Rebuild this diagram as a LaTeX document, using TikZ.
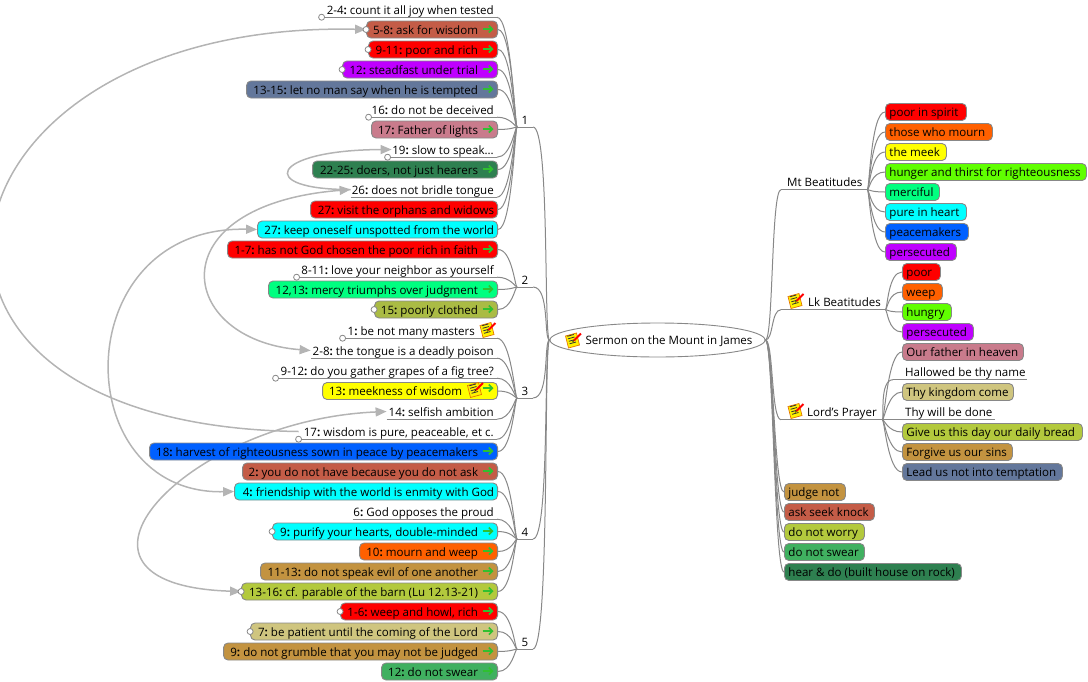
\documentclass[tikz,border=0pt]{standalone}
\usepackage{fontspec}
\setmainfont{Open Sans}
\usetikzlibrary{arrows.meta,calc,shapes.geometric}
\pgfdeclarelayer{bg}
\pgfsetlayers{bg,main}
\definecolor{cRed}{HTML}{FF0000}
\definecolor{cOrange}{HTML}{FF6000}
\definecolor{cYellow}{HTML}{FFFF00}
\definecolor{cLime}{HTML}{60FF00}
\definecolor{cSpring}{HTML}{00FF80}
\definecolor{cCyan}{HTML}{00FFFF}
\definecolor{cBlue}{HTML}{0060FF}
\definecolor{cPurple}{HTML}{BF00FF}
\definecolor{cRose}{HTML}{C97B8C}
\definecolor{cKhaki}{HTML}{CFC57F}
\definecolor{cOlive}{HTML}{B3C93D}
\definecolor{cPoor}{HTML}{AABB44}
\definecolor{cBrown}{HTML}{C39340}
\definecolor{cSlate}{HTML}{63779B}
\definecolor{cTerra}{HTML}{C45C47}
\definecolor{cDeep}{HTML}{2E8050}
\definecolor{cMid}{HTML}{40B060}
\definecolor{cLink}{HTML}{888888}
\definecolor{cArc}{HTML}{B4B4B4}
\definecolor{cGo}{HTML}{30C030}
\newcommand{\st}{\rule[-3pt]{0pt}{15pt}}
\tikzset{
 x=1pt,y=-1pt,
 every node/.style={font=\fontsize{11.55}{13}\selectfont,text=black},
 pill/.style={draw=cLink,line width=.9pt,rounded corners=4.5pt,minimum height=17pt,inner ysep=0pt,inner xsep=0pt},
 bare/.style={inner ysep=0pt,inner xsep=0pt,minimum height=15pt},
 rule/.style={draw=cLink,line width=1pt},
 conn/.style={draw=cLink,line width=1pt,out=0,in=180,out distance=14pt,in distance=2pt},
 connr/.style={draw=cLink,line width=1pt,out=0,in=180,out distance=2pt,in distance=14pt},
 trunk/.style={draw=cLink,line width=1pt,out=0,in=180,out distance=17pt,in distance=6pt},
 trunkr/.style={draw=cLink,line width=1pt,out=0,in=180,out distance=8pt,in distance=10pt},
 arc/.style={draw=cArc,line width=1.5pt,-{Triangle[length=11pt,width=9pt,fill=cArc]}},
 arcb/.style={draw=cArc,line width=1.5pt,{Triangle[length=11pt,width=9pt,fill=cArc]}-{Triangle[length=11pt,width=9pt,fill=cArc]}},
 fold/.style={circle,draw=cLink,fill=white,line width=.8pt,minimum size=6pt,inner sep=0pt},
 go/.style={draw=cGo,line width=1.6pt,-{Straight Barb[length=3.5pt,width=7pt]}},
}
\newcommand{\LB}[6]{%
 \pgfmathsetlengthmacro\boxw{498-#2}%
 \node[pill,fill=#4,minimum width=\boxw,anchor=east] (#1) at (498,#3)
   {\makebox[\dimexpr\boxw-#6pt\relax][r]{\st#5}\hspace*{0pt}};}
\newcommand{\LA}[5]{\LB{#1}{#2}{#3}{#4}{#5\hspace{19pt}}{1}%
 \draw[go] (482.5,#3-.5) -- (493.5,#3-.5);}
\newcommand{\LN}[5]{\LB{#1}{#2}{#3}{#4}{#5\hspace{3pt}}{1}}
\newcommand{\FB}[1]{\node[fold] (#1f) at (#1.west) {};}
\newcommand{\LP}[4]{%
 \pgfmathsetlengthmacro\boxw{497-#2}%
 \node[bare,minimum width=\boxw,anchor=east] (#1) at (497,#3)
   {\makebox[\boxw][r]{\st#4\hspace{3pt}}};
 \draw[rule] (#1.south west) -- (#1.south east);}
\newcommand{\FP}[1]{\node[fold] (#1f) at (#1.south west) {};}
\newcommand{\RB}[6]{%
 \pgfmathsetlengthmacro\boxw{#3-#2}%
 \node[pill,fill=#5,minimum width=\boxw,anchor=west] (#1) at (#2,#4)
   {\makebox[\boxw][l]{\st\hspace{4pt}#6}};}
\newcommand{\RP}[5]{%
 \pgfmathsetlengthmacro\boxw{#3-#2}%
 \node[bare,minimum width=\boxw,anchor=west] (#1) at (#2,#4)
   {\makebox[\boxw][l]{\st\hspace{4pt}#5}};
 \draw[rule] (#1.south west) -- (#1.south east);}
\newcommand{\noteicon}[2]{%
 \begin{scope}[shift={(#1,#2)}]
  \draw[draw=orange!90!black,fill=yellow,line width=.7pt] (-7.5,-4.5) -- (3.5,-7.5) -- (6.5,4.5) -- (-4.5,7.5) -- cycle;
  \foreach \i in {-4,-1.5,1,3.5}
    \draw[black!80,line width=.8pt] (-4.5+.3*\i,\i-.2) -- (2+.3*\i,\i-2);
  \draw[red,line width=2pt] (1,0) -- (8,-7);
  \draw[black,line width=.5pt] (-.5,1.5) -- (1,0);
 \end{scope}}
\newcommand{\hd}[1]{#1\textbf{:}\hspace{-1pt}}
\begin{document}
\begin{tikzpicture}
\useasboundingbox (0,0) rectangle (1088,681);
\node[ellipse,draw=cLink,line width=.9pt,fill=white,minimum width=215pt,minimum height=34pt,inner sep=0pt] (root) at (657.5,340) {};
\node[inner sep=0pt] (roottext) at (669,340) {\st Sermon on the Mount in James};
\noteicon{573}{340.5}
\foreach \nm/\yy/\lbl in {a/127/1,b/287/2,c/398/3,d/539/4,e/649/5}{
 \coordinate (hub\nm) at (517,\yy);
 \coordinate (hub\nm r) at (533,\yy);
 \node[inner sep=0pt] (lab\nm) at (525,\yy-7) {\st\lbl};
 \draw[rule] (hub\nm) -- (hub\nm r);
 \draw[trunk] (hub\nm r) to (root.west);
}
\LP{aa}{322}{9.5}{\hd{2-4} count it all joy when tested}\FP{aa}
\LA{ab}{367}{29.5}{cTerra}{\hd{5-8} ask for wisdom}\FB{ab}
\LA{ac}{369}{49.5}{cRed}{\hd{9-11} poor and rich}\FB{ac}
\LA{ad}{343}{69.5}{cPurple}{\hd{12} steadfast under trial}\FB{ad}
\LA{ae}{247}{89.5}{cSlate}{\hd{13-15} let no man say when he is tempted}
\LP{af}{369}{109.5}{\hd{16} do not be deceived}\FP{af}
\LA{ag}{372}{129.5}{cRose}{\hd{17} Father of lights}
\LP{ah}{388}{149.5}{\hd{19} slow to speak...}\FP{ah}
\LA{ai}{313}{169.5}{cDeep}{\hd{22-25} doers, not just hearers}
\LP{aj}{351}{189.5}{\hd{26} does not bridle tongue}
\LN{ak}{311}{209.5}{cRed}{\hd{27} visit the orphans and widows}
\LN{al}{258}{229.5}{cCyan}{\hd{27} keep oneself unspotted from the world}
\LA{ba}{228}{249.5}{cRed}{\hd{1-7} has not God chosen the poor rich in faith}
\LP{bb}{297}{269.5}{\hd{8-11} love your neighbor as yourself}\FP{bb}
\LA{bc}{269}{289.5}{cSpring}{\hd{12,13} mercy triumphs over judgment}
\LA{bd}{375}{309.5}{cPoor}{\hd{15} poorly clothed}\FB{bd}
\LP{ca}{343}{330.5}{\hd{1} be not many masters\hspace{19pt}}\FP{ca}
\noteicon{487.5}{330}
\LP{cb}{311}{350.5}{\hd{2-8} the tongue is a deadly poison}
\LP{cc}{276}{370.5}{\hd{9-12} do you gather grapes of a fig tree?}\FP{cc}
\LB{cd}{323}{391}{cYellow}{\hd{13} meekness of wisdom\hspace{35pt}}{1}
\draw[go] (482.5,388) -- (493.5,388);
\noteicon{475}{390}
\LP{ce}{387}{411.5}{\hd{14} selfish ambition}
\LP{cf}{299}{431.5}{\hd{17} wisdom is pure, peaceable, et c.}\FP{cf}
\LA{cg}{150}{451.5}{cBlue}{\hd{18} harvest of righteousness sown in peace by peacemakers}
\LA{da}{243}{471.5}{cTerra}{\hd{2} you do not have because you do not ask}
\LN{db}{235}{491.5}{cCyan}{\hd{4} friendship with the world is enmity with God}
\LP{dc}{353}{511.5}{\hd{6} God opposes the proud}
\LA{dd}{273}{531.5}{cCyan}{\hd{9} purify your hearts, double-minded}\FB{dd}
\LA{de}{360}{551.5}{cOrange}{\hd{10} mourn and weep}
\LA{df}{261}{571.5}{cBrown}{\hd{11-13} do not speak evil of one another}
\LA{dg}{242}{591.5}{cOlive}{\hd{13-16} cf. parable of the barn (Lu 12.13-21)}\FB{dg}
\LA{ea}{341}{611.5}{cRed}{\hd{1-6} weep and howl, rich}\FB{ea}
\LA{eb}{251}{631.5}{cKhaki}{\hd{7} be patient until the coming of the Lord}\FB{eb}
\LA{ec}{224}{651.5}{cBrown}{\hd{9} do not grumble that you may not be judged}
\LA{ed}{382}{671.5}{cMid}{\hd{12} do not swear}
\foreach \k in {ab,ac,ad,ae,ag,ai,ak,al} \draw[conn] (\k.east) to (huba);
\foreach \k in {aa,af,ah,aj} \draw[conn] (\k.south east) to (huba);
\foreach \k in {ba,bc,bd} \draw[conn] (\k.east) to (hubb);
\draw[conn] (bb.south east) to (hubb);
\foreach \k in {cd,cg} \draw[conn] (\k.east) to (hubc);
\foreach \k in {ca,cb,cc,ce,cf} \draw[conn] (\k.south east) to (hubc);
\foreach \k in {da,db,dd,de,df,dg} \draw[conn] (\k.east) to (hubd);
\draw[conn] (dc.south east) to (hubd);
\foreach \k in {ea,eb,ec,ed} \draw[conn] (\k.east) to (hube);
\node[bare,minimum width=86pt,anchor=west] (mt) at (781,182) {\makebox[86pt][l]{\st\hspace{6pt}Mt Beatitudes}};
\draw[rule] (mt.south west) -- (mt.south east);
\RB{m1}{885}{966}{112}{cRed}{poor in spirit}
\RB{m2}{885}{992}{132}{cOrange}{those who mourn}
\RB{m3}{885}{946}{152}{cYellow}{the meek}
\RB{m4}{885}{1086}{172}{cLime}{hunger and thirst for righteousness}
\RB{m5}{885}{939}{192}{cSpring}{merciful}
\RB{m6}{885}{966}{212}{cCyan}{pure in heart}
\RB{m7}{885}{968}{232}{cBlue}{peacemakers}
\RB{m8}{885}{956}{252}{cPurple}{persecuted}
\foreach \k in {1,...,8} \draw[connr] (mt.south east) to (m\k.west);
\draw[trunkr] (root.east) to (mt.south west);
\node[bare,minimum width=104pt,anchor=west] (lk) at (781,302) {\makebox[104pt][l]{\st\hspace{27pt}Lk Beatitudes}};
\draw[rule] (lk.south west) -- (lk.south east);
\noteicon{795.5}{301}
\RB{k1}{902}{940}{272}{cRed}{poor}
\RB{k2}{902}{942}{292}{cOrange}{weep}
\RB{k3}{902}{951}{312}{cLime}{hungry}
\RB{k4}{902}{973}{332}{cPurple}{persecuted}
\foreach \k in {1,...,4} \draw[connr] (lk.south east) to (k\k.west);
\draw[trunkr] (root.east) to (lk.south west);
\node[bare,minimum width=101pt,anchor=west] (lp) at (781,412) {\makebox[101pt][l]{\st\hspace{26pt}Lord's Prayer}};
\draw[rule] (lp.south west) -- (lp.south east);
\noteicon{795.5}{411}
\RB{p1}{902}{1023}{352}{cRose}{Our father in heaven}
\RP{p2}{893}{1027}{372}{\hspace{8pt}Hallowed be thy name}
\RB{p3}{902}{1013}{392}{cKhaki}{Thy kingdom come}
\RP{p4}{893}{995}{412}{\hspace{8pt}Thy will be done}
\RB{p5}{902}{1082}{432}{cOlive}{Give us this day our daily bread}
\RB{p6}{902}{1012}{452}{cBrown}{Forgive us our sins}
\RB{p7}{902}{1062}{472}{cSlate}{Lead us not into temptation}
\foreach \k in {1,3,5,6,7} \draw[connr] (lp.south east) to (p\k.west);
\foreach \k in {2,4} \draw[connr] (lp.south east) to (p\k.south west);
\draw[trunkr] (root.east) to (lp.south west);
\RB{j1}{784}{845}{492}{cBrown}{judge not}
\RB{j2}{784}{874}{512}{cTerra}{ask seek knock}
\RB{j3}{784}{864}{532}{cOlive}{do not worry}
\RB{j4}{784}{864}{552}{cMid}{do not swear}
\RB{j5}{784}{961}{572}{cDeep}{hear \& do (built house on rock)}
\foreach \k in {1,...,5} \draw[trunkr] (root.east) to (j\k.west);
\begin{pgfonlayer}{bg}
 \draw[arc] (cf.west) .. controls (-160,425) and (-75,20) .. (ab.west);
 \draw[arc] (aj.west) .. controls (255,190) and (270,150) .. ([xshift=4pt]ah.west);
 \draw[arcb] (aj.west) .. controls (156,205) and (176,340) .. (cb.west);
 \draw[arcb] (al.west) .. controls (66,225) and (66,495) .. (db.west);
 \draw[arcb] (ce.west) .. controls (185,420) and (32,585) .. (dg.west);
\end{pgfonlayer}
\end{tikzpicture}
\end{document}
